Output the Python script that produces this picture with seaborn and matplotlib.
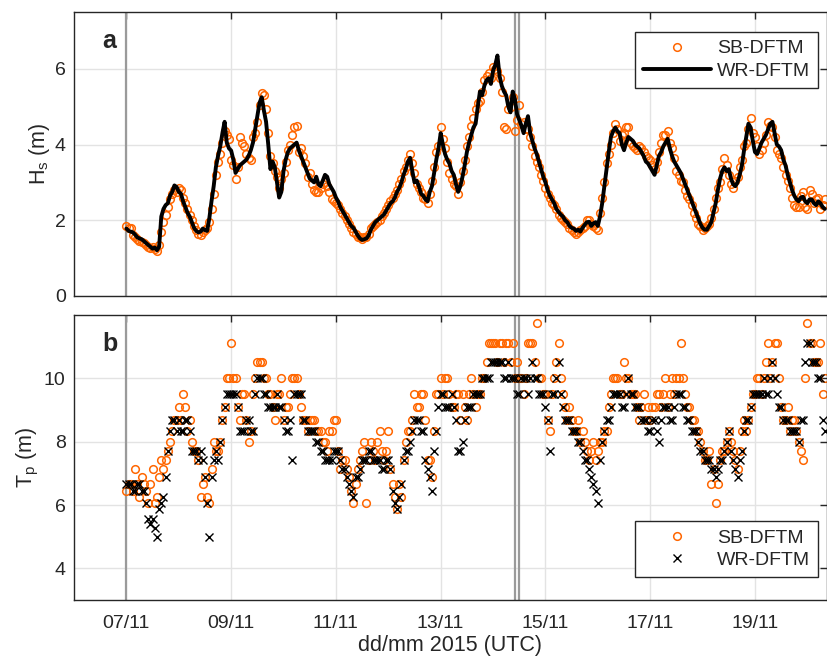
import numpy as np
import pandas as pd
import matplotlib
matplotlib.use("Agg")
import matplotlib.pyplot as plt
import matplotlib.dates as mdates
from matplotlib.lines import Line2D
import seaborn as sns

# ---------------- data ----------------
# "even" arrays: values at 00:00, 02:00, 04:00 ... from 07/11/2015 00:00 UTC
# "odd" arrays:  values at 01:00, 03:00, 05:00 ...
start_time = "2015-11-07 00:00"

hs_wr_even = [1.78, 1.70, 1.62, 1.52, 1.45, 1.35, 1.25, 1.21, 2.10, 2.40, 2.65, 2.92,
              2.75, 2.50, 2.20, 1.95, 1.72, 1.70, 1.74, 2.05, 2.90, 3.70, 4.30, 4.05,
              3.84, 3.25, 3.45, 3.55, 3.70, 4.05, 4.75, 5.25, 4.60, 3.35, 3.40, 2.60,
              3.30, 3.80, 3.95, 4.05, 3.70, 3.40, 3.10, 3.00, 2.95, 3.05, 3.15, 2.85,
              2.60, 2.35, 2.15, 1.95, 1.80, 1.60, 1.48, 1.52, 1.75, 1.95, 2.05, 2.15,
              2.35, 2.50, 2.75, 3.00, 3.35, 3.65, 3.00, 2.90, 2.65, 2.50, 2.90, 3.60,
              4.30, 3.75, 3.50, 3.20, 2.75, 3.15, 3.80, 4.25, 4.55, 5.40, 5.55, 5.75,
              5.95, 6.35, 5.55, 5.30, 4.85, 5.20, 4.65, 4.30, 4.75, 4.10, 3.75, 3.35,
              3.00, 2.65, 2.45, 2.22, 2.10, 1.95, 1.80, 1.72, 1.70, 1.88, 1.96, 1.92,
              1.85, 2.45, 3.35, 4.20, 4.45, 4.30, 3.85, 4.20, 4.10, 3.95, 3.80, 3.55,
              3.40, 3.20, 3.70, 3.95, 4.15, 3.70, 3.45, 3.25, 2.95, 2.65, 2.35, 2.05,
              1.80, 1.75, 1.95, 2.45, 3.10, 3.40, 3.35, 2.95, 3.00, 3.45, 4.20, 4.45,
              3.80, 3.90, 4.15, 4.40, 4.60, 4.00, 3.85, 3.45, 3.00, 2.65, 2.50, 2.62,
              2.45, 2.55, 2.40, 2.45, 2.30]
hs_wr_odd = [1.72, 1.68, 1.55, 1.50, 1.40, 1.30, 1.28, 1.30, 2.30, 2.45, 2.75, 2.88,
             2.70, 2.35, 2.10, 1.80, 1.68, 1.78, 1.72, 2.50, 3.40, 3.95, 4.60, 3.90,
             3.60, 3.35, 3.50, 3.60, 3.85, 4.40, 5.10, 4.90, 4.00, 3.55, 3.00, 2.75,
             3.60, 3.90, 4.00, 3.85, 3.55, 3.25, 3.05, 3.15, 2.90, 3.20, 2.95, 2.75,
             2.50, 2.25, 2.05, 1.85, 1.70, 1.52, 1.50, 1.60, 1.85, 2.00, 2.10, 2.25,
             2.45, 2.60, 2.85, 3.20, 3.55, 3.30, 3.05, 2.70, 2.55, 2.75, 3.25, 3.90,
             4.00, 3.60, 3.30, 2.95, 2.90, 3.45, 4.05, 4.45, 5.00, 5.30, 5.70, 5.60,
             6.10, 5.80, 5.40, 5.00, 5.40, 4.80, 4.50, 4.55, 4.30, 3.90, 3.55, 3.15,
             2.80, 2.55, 2.30, 2.15, 2.00, 1.85, 1.78, 1.75, 1.80, 1.95, 1.85, 1.95,
             2.10, 2.90, 3.80, 4.35, 4.35, 4.00, 4.05, 4.15, 4.00, 3.90, 3.70, 3.50,
             3.30, 3.45, 3.80, 4.05, 3.90, 3.55, 3.35, 3.10, 2.80, 2.50, 2.20, 1.90,
             1.75, 1.85, 2.20, 2.80, 3.30, 3.30, 3.10, 2.90, 3.20, 3.85, 4.55, 4.10,
             3.75, 4.05, 4.25, 4.55, 4.30, 3.95, 3.60, 3.20, 2.80, 2.55, 2.60, 2.50,
             2.55, 2.45, 2.50, 2.35]

hs_sb_even = [1.85, 1.80, 1.55, 1.45, 1.40, 1.30, 1.30, 1.20, 1.70, 2.15, 2.55, 2.80,
              2.85, 2.60, 2.30, 2.00, 1.75, 1.60, 1.75, 1.95, 2.70, 3.55, 4.05, 4.25,
              3.60, 3.10, 4.20, 3.95, 3.65, 4.20, 4.60, 5.35, 4.95, 3.70, 3.30, 2.85,
              3.25, 3.85, 4.25, 4.50, 3.90, 3.50, 3.25, 2.80, 2.75, 2.95, 2.90, 2.55,
              2.45, 2.30, 2.10, 1.90, 1.70, 1.55, 1.50, 1.55, 1.80, 1.90, 2.00, 2.20,
              2.40, 2.60, 2.80, 3.10, 3.40, 3.75, 3.25, 2.85, 2.60, 2.45, 3.05, 3.80,
              4.45, 3.90, 3.25, 2.95, 2.70, 3.30, 3.95, 4.50, 4.95, 5.15, 5.70, 5.90,
              6.05, 5.95, 5.40, 4.40, 5.00, 4.35, 5.05, 4.60, 4.40, 3.95, 3.55, 3.20,
              2.85, 2.60, 2.40, 2.15, 2.00, 1.90, 1.75, 1.65, 1.75, 1.85, 2.00, 1.85,
              1.75, 2.60, 3.50, 4.00, 4.55, 4.10, 4.30, 4.45, 3.95, 3.85, 3.90, 3.70,
              3.60, 3.35, 3.80, 4.25, 4.35, 3.90, 3.30, 3.05, 2.80, 2.55, 2.20, 1.90,
              1.75, 1.85, 2.05, 2.60, 3.00, 3.65, 3.20, 2.85, 3.15, 3.60, 4.05, 4.70,
              4.20, 3.75, 4.05, 4.60, 4.45, 3.85, 3.65, 3.20, 2.85, 2.40, 2.35, 2.75,
              2.30, 2.70, 2.55, 2.30, 2.55]
hs_sb_odd = [1.80, 1.60, 1.50, 1.42, 1.35, 1.28, 1.25, 1.35, 1.95, 2.35, 2.70, 2.75,
             2.80, 2.45, 2.15, 1.85, 1.65, 1.70, 1.80, 2.30, 3.20, 3.75, 4.35, 4.15,
             3.45, 3.40, 4.05, 3.75, 3.60, 4.30, 5.05, 5.30, 4.30, 3.50, 3.15, 3.10,
             3.55, 4.00, 4.45, 3.80, 3.70, 3.15, 2.95, 2.75, 2.85, 3.00, 2.75, 2.50,
             2.40, 2.20, 2.00, 1.80, 1.65, 1.55, 1.55, 1.65, 1.85, 1.95, 2.10, 2.30,
             2.50, 2.70, 2.95, 3.30, 3.60, 3.50, 2.95, 2.75, 2.55, 2.70, 3.40, 3.95,
             4.15, 3.55, 3.10, 2.90, 3.00, 3.60, 4.20, 4.70, 5.10, 5.40, 5.80, 5.75,
             6.00, 5.75, 4.45, 4.95, 5.25, 4.65, 4.55, 4.40, 4.20, 3.70, 3.40, 3.05,
             2.70, 2.45, 2.30, 2.05, 1.95, 1.80, 1.70, 1.68, 1.80, 2.00, 1.90, 1.80,
             2.20, 3.00, 3.75, 4.30, 4.40, 4.25, 4.45, 4.05, 3.90, 3.95, 3.80, 3.65,
             3.45, 3.55, 4.05, 4.25, 4.05, 3.65, 3.20, 3.00, 2.65, 2.40, 2.05, 1.85,
             1.80, 1.90, 2.30, 2.85, 3.35, 3.45, 2.95, 3.05, 3.40, 3.95, 4.40, 4.30,
             3.95, 3.85, 4.25, 4.50, 4.20, 3.75, 3.40, 3.05, 2.60, 2.35, 2.65, 2.35,
             2.80, 2.45, 2.60, 2.40]

tp_wr_even = [6.67, 6.67, 6.45, 6.67, 6.45, 5.56, 5.56, 5.00, 6.06, 6.90, 8.33, 8.70,
              8.70, 8.33, 8.70, 7.69, 7.69, 7.69, 6.90, 5.00, 7.41, 7.41, 8.70, 9.52,
              9.52, 9.52, 8.33, 8.33, 8.70, 8.33, 10.00, 10.00, 9.52, 9.09, 9.09, 9.09,
              8.70, 8.33, 7.41, 9.52, 9.52, 8.70, 8.33, 8.33, 8.00, 7.69, 7.41, 7.41,
              7.69, 7.41, 7.14, 6.67, 6.25, 6.90, 7.41, 7.41, 7.69, 7.41, 7.41, 7.14,
              7.41, 6.45, 5.88, 6.67, 7.69, 8.00, 8.70, 8.70, 8.33, 7.14, 6.45, 8.33,
              9.52, 9.09, 9.09, 9.09, 7.69, 8.00, 9.09, 9.09, 9.52, 9.52, 10.00, 10.00,
              10.53, 10.53, 10.53, 10.00, 10.00, 10.00, 9.52, 10.00, 9.52, 10.53, 10.00, 9.52,
              9.09, 7.69, 9.52, 10.53, 9.09, 8.70, 8.33, 8.33, 8.00, 7.41, 7.14, 6.67,
              6.06, 8.00, 8.70, 9.09, 9.52, 9.52, 9.09, 10.00, 9.52, 9.09, 8.70, 8.70,
              8.33, 8.70, 8.00, 9.09, 9.09, 8.70, 9.52, 9.52, 9.09, 8.70, 8.33, 8.00,
              7.69, 7.41, 7.14, 6.90, 7.41, 7.69, 8.33, 7.41, 6.90, 7.69, 8.70, 9.09,
              9.52, 9.52, 10.00, 9.52, 10.53, 9.52, 9.09, 8.70, 8.33, 8.33, 8.00, 8.70,
              11.11, 10.53, 10.53, 10.00, 8.33]
tp_wr_odd = [6.67, 6.45, 6.67, 6.45, 6.06, 5.41, 5.26, 5.88, 6.25, 7.69, 8.70, 8.33,
             8.33, 8.70, 8.33, 7.69, 7.41, 7.41, 6.06, 6.90, 7.69, 8.00, 9.09, 9.52,
             9.52, 9.09, 8.33, 8.70, 8.33, 9.52, 10.00, 9.52, 9.09, 9.09, 9.52, 9.09,
             8.33, 8.70, 9.52, 9.52, 8.70, 8.33, 8.33, 8.00, 7.69, 7.41, 7.41, 7.69,
             7.69, 7.14, 6.90, 6.45, 6.90, 7.14, 7.41, 7.69, 7.41, 7.41, 7.14, 7.41,
             7.14, 6.06, 6.25, 7.41, 7.69, 8.33, 8.70, 8.33, 7.41, 6.90, 7.69, 9.09,
             9.52, 9.09, 9.52, 8.70, 7.69, 8.70, 9.09, 9.52, 9.52, 10.00, 10.00, 10.53,
             10.53, 10.53, 10.00, 10.53, 10.00, 9.52, 10.00, 10.00, 10.00, 10.00, 9.52, 9.52,
             8.70, 9.52, 10.00, 9.52, 8.70, 8.70, 8.33, 8.00, 7.69, 7.41, 6.90, 6.45,
             7.41, 8.33, 8.70, 9.52, 9.52, 9.09, 9.52, 9.52, 9.09, 9.09, 8.70, 8.33,
             8.70, 8.33, 8.70, 9.09, 8.70, 9.09, 9.52, 9.09, 8.70, 8.33, 8.33, 7.69,
             7.41, 7.41, 7.14, 7.14, 7.41, 8.00, 7.69, 7.14, 7.41, 8.33, 8.70, 9.52,
             9.52, 9.52, 9.52, 10.00, 10.00, 9.09, 8.70, 8.70, 8.33, 8.33, 8.70, 10.53,
             11.11, 10.53, 10.00, 8.70]

tp_sb_even = [6.45, 6.67, 7.14, 6.25, 6.67, 6.06, 7.14, 6.25, 7.41, 7.41, 8.00, 8.70,
              9.09, 9.52, 8.33, 8.00, 7.69, 6.25, 6.90, 6.06, 8.00, 7.69, 8.70, 10.00,
              11.11, 10.00, 8.70, 9.52, 8.00, 9.52, 10.53, 10.53, 10.00, 9.52, 8.70, 9.52,
              8.70, 9.09, 10.00, 10.00, 9.09, 8.70, 8.70, 8.70, 8.33, 8.00, 7.69, 8.33,
              8.70, 7.14, 7.41, 6.90, 6.06, 7.14, 7.69, 6.06, 8.00, 7.41, 8.33, 7.41,
              8.33, 6.67, 5.88, 6.25, 8.00, 8.33, 9.52, 9.09, 9.52, 7.41, 6.90, 9.52,
              10.00, 10.00, 9.52, 9.09, 9.52, 9.52, 8.70, 10.00, 9.09, 9.52, 10.00, 11.11,
              11.11, 10.53, 11.11, 11.11, 10.53, 10.00, 10.00, 9.52, 11.11, 11.11, 11.76, 10.00,
              9.52, 8.33, 10.00, 11.11, 9.52, 8.70, 8.70, 8.33, 8.00, 8.00, 7.41, 8.00,
              7.69, 8.00, 8.33, 9.52, 10.00, 9.52, 10.53, 10.00, 9.52, 9.09, 9.09, 8.70,
              8.70, 9.09, 9.52, 9.52, 9.09, 10.00, 10.00, 11.11, 9.52, 9.09, 8.70, 8.33,
              7.69, 7.41, 6.67, 6.06, 7.41, 7.69, 8.33, 7.69, 7.14, 8.33, 8.33, 9.09,
              9.52, 10.00, 10.00, 11.11, 10.53, 11.11, 9.09, 8.70, 8.33, 8.70, 8.00, 7.41,
              11.76, 11.11, 10.53, 11.11, 10.00]
tp_sb_odd = [6.67, 6.45, 6.67, 6.90, 6.45, 6.67, 6.06, 6.90, 7.14, 7.69, 8.33, 8.70,
             8.70, 9.09, 8.70, 7.69, 7.41, 6.67, 6.25, 7.14, 7.69, 8.00, 9.09, 10.00,
             10.00, 9.09, 9.52, 8.70, 8.33, 10.00, 10.53, 10.00, 9.52, 9.09, 9.52, 10.00,
             9.09, 9.52, 10.00, 9.52, 8.70, 8.33, 8.70, 8.33, 8.33, 8.00, 8.33, 8.70,
             7.69, 7.41, 7.14, 6.45, 6.67, 7.41, 8.00, 7.41, 7.69, 8.00, 7.69, 7.69,
             7.14, 6.25, 6.67, 7.41, 8.33, 8.70, 9.09, 9.52, 8.70, 7.41, 8.33, 9.52,
             9.52, 10.00, 9.09, 9.52, 8.70, 9.09, 9.52, 9.52, 9.52, 10.00, 10.53, 11.11,
             11.11, 11.11, 10.53, 11.11, 11.11, 10.53, 10.00, 10.00, 11.11, 10.53, 10.00, 9.52,
             8.70, 9.52, 10.53, 10.00, 9.09, 9.09, 8.33, 8.70, 8.33, 7.69, 7.69, 7.41,
             8.00, 8.33, 9.09, 10.00, 10.00, 9.52, 10.00, 9.52, 9.52, 8.70, 9.52, 9.09,
             9.09, 9.52, 9.09, 10.00, 9.52, 9.52, 10.00, 10.00, 9.09, 8.70, 8.33, 8.00,
             7.41, 7.69, 7.14, 6.67, 7.69, 8.00, 8.00, 7.41, 7.69, 8.70, 8.70, 9.52,
             10.00, 9.52, 10.53, 10.00, 11.11, 10.00, 8.70, 9.09, 8.70, 8.33, 7.69, 10.00,
             11.11, 10.53, 10.53, 9.52]

marker_times = ["2015-11-07 00:00", "2015-11-14 10:00", "2015-11-14 12:00"]
xtick_dates = ["2015-11-07", "2015-11-09", "2015-11-11", "2015-11-13",
               "2015-11-15", "2015-11-17", "2015-11-19"]
hs_ticks = [0, 2, 4, 6]
tp_ticks = [4, 6, 8, 10]
series_names = ["SB-DFTM", "WR-DFTM"]


def merge(even, odd):
    out = np.empty(len(even) + len(odd))
    out[0::2] = even
    out[1::2] = odd
    return out


# ---------------- build frame (hourly) ----------------
n = len(hs_wr_even) + len(hs_wr_odd)
time = pd.date_range(start_time, periods=n, freq="1h")
df = pd.DataFrame({"time": time,
                   "hs_wr": merge(hs_wr_even, hs_wr_odd),
                   "hs_sb": merge(hs_sb_even, hs_sb_odd),
                   "tp_wr": merge(tp_wr_even, tp_wr_odd),
                   "tp_sb": merge(tp_sb_even, tp_sb_odd)})

# ---------------- style ----------------
sns.set_theme(style="white")
plt.rcParams["font.family"] = ["Liberation Sans", "DejaVu Sans"]
plt.rcParams["mathtext.fontset"] = "custom"
plt.rcParams["mathtext.rm"] = "Liberation Sans"
plt.rcParams["mathtext.it"] = "Liberation Sans:italic"

ORANGE = "#FF6600"
DARK = "#262626"
GRID = "#E3E3E3"
TICK_FS = 14
LABEL_FS = 15.5

fig = plt.figure(figsize=(8.28, 6.57), dpi=100)
ax1 = fig.add_axes([74 / 828, 1 - 296 / 657, 753 / 828, 284 / 657])
ax2 = fig.add_axes([74 / 828, 1 - 600 / 657, 753 / 828, 285 / 657])

xmin = pd.Timestamp("2015-11-06 00:00")
xmax = pd.Timestamp("2015-11-20 09:00")

for ax in (ax1, ax2):
    ax.set_axisbelow(True)
    ax.grid(True, color=GRID, linewidth=1.0)
    for t in marker_times:
        ax.axvline(pd.Timestamp(t), color="#9A9A9A", linewidth=1.6, zorder=1)

# panel a
sns.lineplot(data=df, x="time", y="hs_sb", ax=ax1, linestyle="", marker="o",
             markersize=5.5, markerfacecolor="none", markeredgecolor=ORANGE,
             markeredgewidth=1.1, estimator=None, sort=False, zorder=2)
sns.lineplot(data=df, x="time", y="hs_wr", ax=ax1, color="black",
             linewidth=2.8, estimator=None, sort=False, zorder=3)

# panel b
sns.lineplot(data=df, x="time", y="tp_sb", ax=ax2, linestyle="", marker="o",
             markersize=5.5, markerfacecolor="none", markeredgecolor=ORANGE,
             markeredgewidth=1.1, estimator=None, sort=False, zorder=2)
sns.lineplot(data=df, x="time", y="tp_wr", ax=ax2, linestyle="", marker="x",
             markersize=6, color="black", markeredgecolor="black",
             markeredgewidth=1.0, estimator=None, sort=False, zorder=3)

ax1.set_ylim(0, 7.5)
ax1.set_yticks(hs_ticks)
ax2.set_ylim(3, 12)
ax2.set_yticks(tp_ticks)

ticks = [pd.Timestamp(d) for d in xtick_dates]
for ax in (ax1, ax2):
    ax.set_xlim(xmin, xmax)
    ax.set_xticks(ticks)
    ax.xaxis.set_major_formatter(mdates.DateFormatter("%d/%m"))
    ax.tick_params(direction="in", length=5, width=1.0, top=True, right=True,
                   colors=DARK, labelsize=TICK_FS, labelcolor=DARK)
    ax.tick_params(axis="x", pad=11)
    ax.tick_params(axis="y", pad=6)
    for s in ax.spines.values():
        s.set_color(DARK)
        s.set_linewidth(1.0)

ax1.tick_params(labelbottom=False)
ax1.set_xlabel("")
ax1.set_ylabel(r"H$_\mathrm{s}$ (m)", fontsize=LABEL_FS, color=DARK, labelpad=2)
ax2.set_ylabel(r"T$_\mathrm{p}$ (m)", fontsize=LABEL_FS, color=DARK, labelpad=2)
ax2.set_xlabel("dd/mm 2015 (UTC)", fontsize=LABEL_FS, color=DARK, labelpad=2)

ax1.text(0.038, 0.898, "a", transform=ax1.transAxes, fontsize=18,
         fontweight="bold", color=DARK, va="center", ha="left")
ax2.text(0.038, 0.898, "b", transform=ax2.transAxes, fontsize=18,
         fontweight="bold", color=DARK, va="center", ha="left")

h_sb = Line2D([], [], linestyle="", marker="o", markersize=5.5,
              markerfacecolor="none", markeredgecolor=ORANGE, markeredgewidth=1.1)
h_wr_line = Line2D([], [], color="black", linewidth=2.8)
h_wr_x = Line2D([], [], linestyle="", marker="x", markersize=6, color="black",
                markeredgewidth=1.0)

leg_kw = dict(fontsize=TICK_FS, frameon=True, fancybox=False, edgecolor=DARK,
              framealpha=1, handlelength=3.5, handletextpad=0.3,
              borderpad=0.4, labelspacing=0.25, borderaxespad=0.0)
l1 = ax1.legend([h_sb, h_wr_line], series_names, loc="upper right",
                bbox_to_anchor=(1 - 9 / 753, 1 - 20 / 284), **leg_kw)
l2 = ax2.legend([h_sb, h_wr_x], series_names, loc="lower right",
                bbox_to_anchor=(1 - 9 / 753, 23 / 285), **leg_kw)
for l in (l1, l2):
    l.get_frame().set_linewidth(1.0)
    for t in l.get_texts():
        t.set_color(DARK)

fig.savefig("out.png", dpi=100)
